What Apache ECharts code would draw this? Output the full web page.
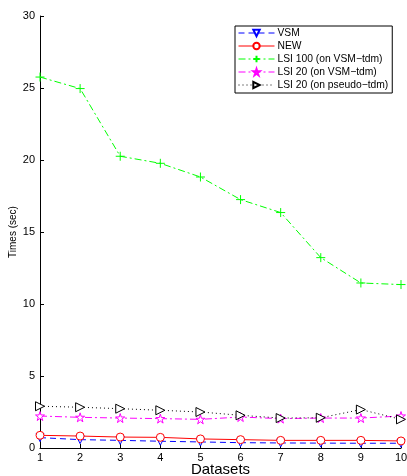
<!DOCTYPE html>
<html><head><meta charset="utf-8">
<script src="https://cdn.jsdelivr.net/npm/echarts@6/dist/echarts.min.js"></script>
<style>html,body{margin:0;padding:0;background:#fff}#c{width:407px;height:476px}</style>
</head><body><div id="c"></div>
<script>
const datasets = [1,2,3,4,5,6,7,8,9,10];
const vsm = [0.72,0.58,0.53,0.47,0.42,0.37,0.35,0.34,0.33,0.33];
const newM = [0.88,0.83,0.76,0.74,0.63,0.58,0.53,0.53,0.53,0.49];
const lsi100 = [25.76,24.96,20.26,19.77,18.82,17.25,16.35,13.22,11.46,11.35];
const lsi20 = [2.22,2.13,2.08,2.04,1.99,2.15,2.04,2.08,2.08,2.22];
const lsi20p = [2.9,2.83,2.73,2.62,2.5,2.27,2.08,2.1,2.67,1.99];
const names = ['VSM','NEW','LSI 100 (on VSM\u2212tdm)','LSI 20 (on VSM\u2212tdm)','LSI 20 (on pseudo\u2212tdm)'];

const star = 'path://M50,0 L61.8,36.2 L100,36.2 L69.1,58.6 L80.9,95.1 L50,72.7 L19.1,95.1 L30.9,58.6 L0,36.2 L38.2,36.2 Z';
const triDown = 'path://M0,0 L10,0 L5,10 Z';
const triRight = 'path://M0,0 L10,5 L0,10 Z';
const plus = 'path://M5,0 L5,10 M0,5 L10,5';

function mk(name, data, color, lineType, symbol, size, fill) {
  return {
    name, type: 'line', data: data.map((v,i)=>[datasets[i], v]),
    symbol, symbolSize: size, showSymbol: true,
    itemStyle: { color: fill || '#fff', borderColor: color, borderWidth: 1 },
    lineStyle: { color, width: 1, type: lineType },
    emphasis: { disabled: true }, animation: false
  };
}
const chart = echarts.init(document.getElementById('c'), null, {renderer:'canvas'});
chart.setOption({
  animation: false,
  textStyle: { fontFamily: 'Liberation Sans, Arial, sans-serif' },
  grid: { left: 40, right: 6, top: 16, bottom: 28, containLabel: false, outerBoundsMode: 'none' },
  legend: {
    orient: 'vertical', left: 235, top: 26,
    itemWidth: 36, itemHeight: 8, itemGap: 3,
    padding: [2, 4, 3, 3],
    borderColor: '#000', borderWidth: 1, backgroundColor: '#fff',
    lineStyle: { width: 1 },
    textStyle: { fontSize: 10.3, color: '#000', fontFamily: 'Liberation Sans, Arial, sans-serif', padding: [0,0,0,-2] },
    data: names.map(n => ({ name: n })),
    selectedMode: false
  },
  xAxis: {
    type: 'value', min: 1, max: 10, interval: 1,
    name: 'Datasets', nameLocation: 'middle', nameGap: 14, nameMoveOverlap: false,
    nameTextStyle: { fontSize: 15, color: '#000', verticalAlign: 'top' },
    axisLine: { lineStyle: { color: '#000', width: 1 } },
    axisTick: { inside: true, length: 4, lineStyle: { color: '#000' } },
    axisLabel: { fontSize: 11, color: '#000', margin: 4 },
    splitLine: { show: false }
  },
  yAxis: {
    type: 'value', min: 0, max: 30, interval: 5,
    name: 'Times (sec)', nameLocation: 'middle', nameGap: 22, nameRotate: 90, nameMoveOverlap: false,
    nameTextStyle: { fontSize: 10, color: '#000' },
    axisLine: { show: true, lineStyle: { color: '#000', width: 1 } },
    axisTick: { show: true, inside: true, length: 4, lineStyle: { color: '#000' } },
    axisLabel: { fontSize: 11, color: '#000', margin: 5 },
    splitLine: { show: false }
  },
  series: [
    mk(names[0], vsm, '#0000ff', [6,4], triDown, 8),
    mk(names[1], newM, '#ff0000', 'solid', 'circle', 8),
    mk(names[2], lsi100, '#00ff00', [7,3,2,3], plus, 9),
    mk(names[3], lsi20, '#ff00ff', [7,3,2,3], star, 9),
    mk(names[4], lsi20p, '#000000', [1,3], triRight, 9)
  ]
});
</script></body></html>
